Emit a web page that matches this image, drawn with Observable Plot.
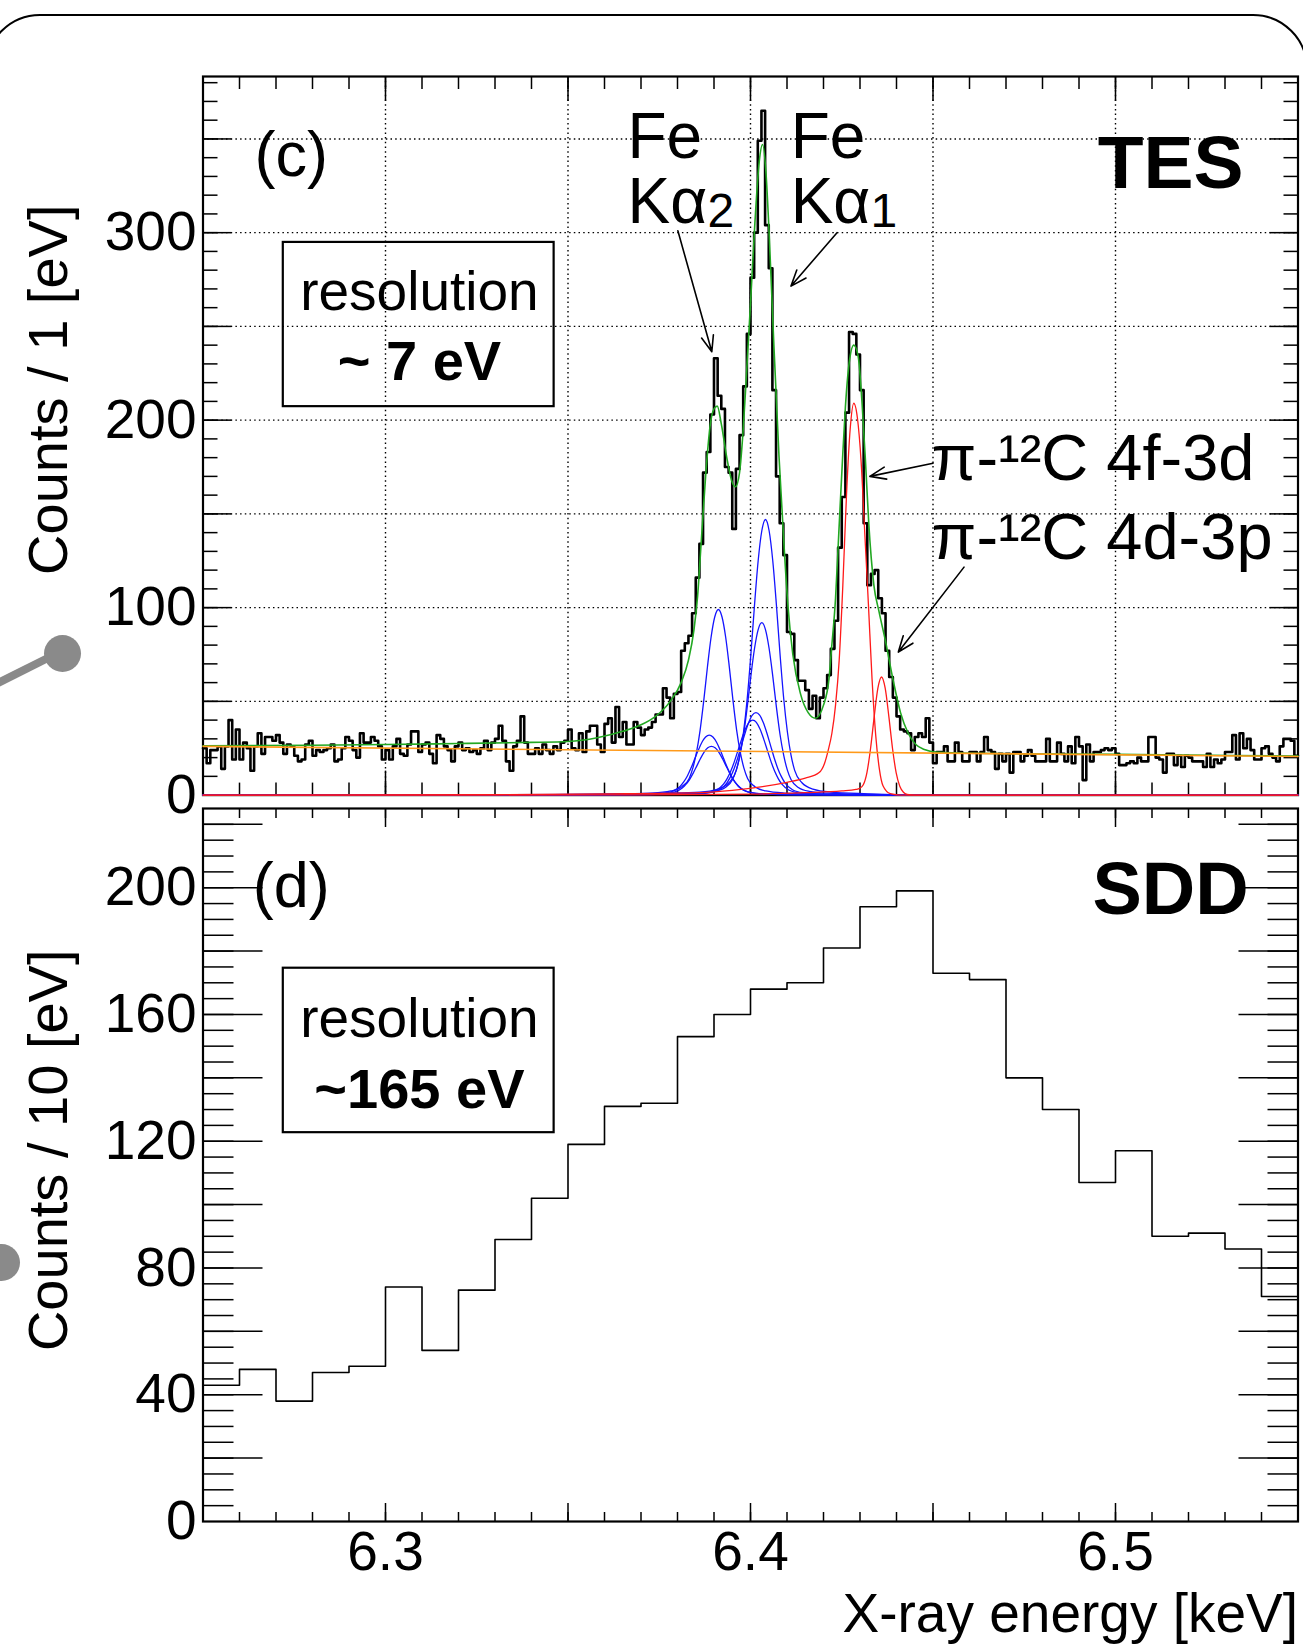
<!DOCTYPE html>
<html><head><meta charset="utf-8">
<script src="https://cdn.jsdelivr.net/npm/d3@7"></script>
<script src="https://cdn.jsdelivr.net/npm/@observablehq/plot@0.6"></script>
<style>
body{margin:0;background:#fff;}
#wrap{position:relative;width:1303px;height:1644px;overflow:hidden;background:#fff;}
#wrap svg{position:absolute;left:0;top:0;}
.outline{position:absolute;left:-15px;top:14px;width:1323px;height:1760px;border:2.5px solid #000;border-radius:55px;box-sizing:border-box;}
.dot{position:absolute;width:37px;height:37px;border-radius:50%;background:#8a8a8a;}
.stick{position:absolute;left:-2px;top:679px;width:72px;height:8px;background:#8a8a8a;transform-origin:0 50%;transform:rotate(-26.6deg);}
</style></head>
<body>
<div id="wrap">
  <div class="outline"></div>
  <div class="stick"></div>
  <div class="dot" style="left:43.5px;top:634.5px"></div>
  <div class="dot" style="left:-17.5px;top:1243.5px"></div>
</div>
<script>
// ---------------- data ----------------
const tesStart = 6.25, tesBinWidth = 0.001;   // keV, 1 eV bins
const tesCounts = [
25,17,24,24,26,14,26,40,19,35, 19,28,25,13,26,33,22,31,31,29, 32,28,22,27,26,21,18,19,27,29, 21,24,23,24,25,27,18,19,25,31, 29,24,20,33,28,28,31,29,26,19,
24,19,26,30,22,21,27,34,34,23, 27,28,22,17,32,30,26,24,18,26, 28,24,25,23,24,22,25,29,24,28, 30,37,29,18,13,26,29,42,28,22, 22,25,22,27,24,22,26,24,28,29,
35,25,24,33,23,34,37,37,27,23, 38,41,28,47,31,39,27,27,39,36, 32,35,36,39,43,43,57,52,41,54, 55,77,81,85,97,116,134,172,183,203, 233,213,206,175,172,142,174,192,218,246,
276,300,349,365,304,281,216,170,145,128, 87,86,72,61,61,56,46,53,41,52, 57,64,78,93,132,159,204,247,246,235, 216,145,112,118,120,105,97,77,63,52, 42,35,34,33,24,31,33,31,41,28,
17,23,23,26,18,18,28,23,18,18, 23,23,18,23,31,24,23,14,22,18, 22,12,23,23,18,21,24,21,18,18, 18,30,18,18,28,22,18,26,17,31, 26,8,27,18,23,23,24,25,24,25,
22,16,16,17,18,17,20,18,18,31, 31,20,19,12,22,22,16,21,15,21, 20,18,18,18,15,22,15,19,17,19, 23,23,32,19,33,25,30,24,19,19, 25,26,22,20,18,26,30,30,29,21
];
const sddStart = 6.25, sddBinWidth = 0.01;    // keV, 10 eV bins
const sddCounts = [43,48,38,47,49,74,54,73,89,102, 119,131,132,153,160,168,170,181,194,199, 173,171,140,130,107,117,90,91,86,71];

// fit curves: [energy keV, counts]
const fitTotal = [[6.2500,26.3],[6.2800,26.6],[6.3000,27.0],[6.3200,27.5],[6.3400,28.1],[6.3500,28.6],[6.3580,30.6],[6.3650,34.0],[6.3700,37.5],[6.3740,42.0],[6.3780,50.0],[6.3810,60.0],[6.3830,72.0],[6.3845,88.0],[6.3855,106.0],[6.3865,135.0],[6.3877,170.0],[6.3890,198.0],[6.3900,206.0],[6.3909,207.5],[6.3920,198.0],[6.3935,180.0],[6.3948,168.0],[6.3959,164.5],[6.3970,172.0],[6.3980,195.0],[6.3990,228.0],[6.4000,262.0],[6.4012,305.0],[6.4024,338.0],[6.4033,347.0],[6.4042,333.0],[6.4051,300.0],[6.4064,240.0],[6.4078,181.0],[6.4091,136.0],[6.4103,100.0],[6.4116,75.0],[6.4137,54.0],[6.4158,44.0],[6.4178,41.0],[6.4200,48.0],[6.4215,62.0],[6.4222,78.0],[6.4233,105.0],[6.4242,140.0],[6.4251,175.0],[6.4260,207.0],[6.4270,230.0],[6.4283,240.0],[6.4295,234.0],[6.4306,208.0],[6.4315,178.0],[6.4324,145.0],[6.4338,112.0],[6.4352,98.0],[6.4370,82.0],[6.4390,62.0],[6.4411,44.0],[6.4432,33.0],[6.4453,27.0],[6.4474,24.5],[6.4516,22.8],[6.4600,22.3],[6.5000,21.7],[6.5500,20.8]];
const fitBackground = [[6.25,26.0],[6.55,20.6]];
const feKa11 = [[6.25,0],[6.3241,0.15],[6.3591,0.44],[6.3761,1.03],[6.3861,1.6],[6.3911,3.2],[6.3941,6.6],[6.3961,13.2],[6.3971,21.3],[6.3981,33.8],[6.3991,51.5],[6.4001,75],[6.4011,101.4],[6.4021,125],[6.4031,141],[6.4041,147],[6.4051,141],[6.4061,125],[6.4071,101.4],[6.4081,75],[6.4091,51.5],[6.4101,33.8],[6.4111,21.3],[6.4121,13.2],[6.4141,6.6],[6.4171,3.2],[6.4221,1.6],[6.4321,0.7],[6.4491,0],[6.55,0]];
const feKa12 = [[6.25,0],[6.3231,0.09],[6.3581,0.28],[6.3751,0.64],[6.3851,1.0],[6.3901,2.0],[6.3931,4.1],[6.3951,8.3],[6.3961,13.3],[6.3971,21.2],[6.3981,32.2],[6.3991,46.9],[6.4001,63.5],[6.4011,78.2],[6.4021,88.3],[6.4031,92],[6.4041,88.3],[6.4051,78.2],[6.4061,63.5],[6.4071,46.9],[6.4081,32.2],[6.4091,21.2],[6.4101,13.3],[6.4111,8.3],[6.4131,4.1],[6.4161,2.0],[6.4211,1.0],[6.4311,0.46],[6.4481,0],[6.55,0]];
const feKa13 = [[6.25,0],[6.3215,0.04],[6.3565,0.13],[6.3735,0.35],[6.3835,0.53],[6.3885,1.23],[6.3915,2.86],[6.3935,6.4],[6.3945,9.7],[6.3955,14.1],[6.3965,19.8],[6.3975,26.4],[6.3985,33],[6.3995,38.7],[6.4005,42.7],[6.4015,44],[6.4025,42.7],[6.4035,38.7],[6.4045,33],[6.4055,26.4],[6.4065,19.8],[6.4075,14.1],[6.4085,9.7],[6.4095,6.4],[6.4115,2.86],[6.4145,1.23],[6.4195,0.53],[6.4295,0.22],[6.4465,0],[6.55,0]];
const feKa14 = [[6.25,0],[6.3206,0.04],[6.3556,0.12],[6.3726,0.32],[6.3826,0.48],[6.3876,1.12],[6.3906,2.6],[6.3926,5.8],[6.3936,8.8],[6.3946,12.8],[6.3956,18],[6.3966,24],[6.3976,30],[6.3986,35.2],[6.3996,38.8],[6.4006,40],[6.4016,38.8],[6.4026,35.2],[6.4036,30],[6.4046,24],[6.4056,18],[6.4066,12.8],[6.4076,8.8],[6.4086,5.8],[6.4106,2.6],[6.4136,1.12],[6.4186,0.48],[6.4286,0.2],[6.4456,0],[6.55,0]];
const feKa21 = [[6.25,0],[6.3112,0.1],[6.3462,0.3],[6.3632,0.7],[6.3732,1.1],[6.3782,2.2],[6.3812,4.5],[6.3832,8.9],[6.3842,14.4],[6.3852,22.8],[6.3862,34.7],[6.3872,50.5],[6.3882,68.3],[6.3892,84.2],[6.3902,95],[6.3912,99],[6.3922,95],[6.3932,84.2],[6.3942,68.3],[6.3952,50.5],[6.3962,34.7],[6.3972,22.8],[6.3982,14.4],[6.3992,8.9],[6.4012,4.5],[6.4042,2.2],[6.4092,1.1],[6.4192,0.5],[6.4362,0],[6.55,0]];
const feKa22 = [[6.25,0],[6.3087,0.03],[6.3437,0.1],[6.3607,0.26],[6.3707,0.38],[6.3757,0.9],[6.3787,2.1],[6.3807,4.6],[6.3817,7],[6.3827,10.2],[6.3837,14.4],[6.3847,19.2],[6.3857,24],[6.3867,28.2],[6.3877,31],[6.3887,32],[6.3897,31],[6.3907,28.2],[6.3917,24],[6.3927,19.2],[6.3937,14.4],[6.3947,10.2],[6.3957,7],[6.3967,4.6],[6.3987,2.1],[6.4017,0.9],[6.4067,0.38],[6.4167,0.16],[6.4337,0],[6.55,0]];
const feKa23 = [[6.25,0],[6.3093,0.03],[6.3443,0.08],[6.3613,0.21],[6.3713,0.31],[6.3763,0.73],[6.3793,1.7],[6.3813,3.8],[6.3823,5.7],[6.3833,8.3],[6.3843,11.7],[6.3853,15.6],[6.3863,19.5],[6.3873,22.9],[6.3883,25.2],[6.3893,26],[6.3903,25.2],[6.3913,22.9],[6.3923,19.5],[6.3933,15.6],[6.3943,11.7],[6.3953,8.3],[6.3963,5.7],[6.3973,3.8],[6.3993,1.7],[6.4023,0.73],[6.4073,0.31],[6.4173,0.13],[6.4343,0],[6.55,0]];
const pi4f3d = [[6.25,0],[6.3300,0.2],[6.3600,0.6],[6.3863,1.3],[6.3950,2.5],[6.4033,4.5],[6.4100,6.8],[6.4150,9.0],[6.4188,12],[6.4203,17],[6.4213,24],[6.4223,33],[6.4233,48],[6.4243,72],[6.4253,112],[6.4263,160],[6.4273,195],[6.4283,209],[6.4293,201],[6.4303,178],[6.4313,140],[6.4323,102],[6.4333,62],[6.4343,32],[6.4353,14],[6.4363,5],[6.4383,0.8],[6.4413,0],[6.55,0]];
const pi4d3p = [[6.25,0],[6.3600,0.1],[6.4000,0.5],[6.4150,1.3],[6.4250,2.2],[6.4289,3.0],[6.4299,3.6],[6.4309,5.5],[6.4319,12],[6.4329,25],[6.4339,42],[6.4349,57],[6.4359,63],[6.4369,57],[6.4379,42],[6.4389,25],[6.4399,12],[6.4409,4.7],[6.4419,1.5],[6.4429,0.4],[6.4450,0],[6.55,0]];

// tick values
const eMinorTicks = d3.range(1, 30).map(i => +(6.25 + i * 0.01).toFixed(2));
const eMajorTicks = [6.3, 6.35, 6.4, 6.45, 6.5];
const eLabelTicks = [6.3, 6.4, 6.5];
const tesMinorTicks = d3.range(10, 381, 10);
const tesGridTicks = [50, 100, 150, 200, 250, 300, 350];
const tesLabelTicks = [0, 100, 200, 300];
const sddMinorTicks = d3.range(5, 225, 5);
const sddMajorTicks = d3.range(20, 221, 20);
const sddLabelTicks = [0, 40, 80, 120, 160, 200];

// annotations (energy keV, counts)
const tesArrows = [
  {x1: 6.3801, y1: 301, x2: 6.3894, y2: 236.5},
  {x1: 6.4237, y1: 300, x2: 6.4111, y2: 271.5},
  {x1: 6.4500, y1: 177, x2: 6.4327, y2: 170},
  {x1: 6.4585, y1: 121.6, x2: 6.4405, y2: 76.3}
];
const feLabels = [
  {t: "Fe", x: 6.3663, y: 339.9}, {t: "Kα", x: 6.3663, y: 305.2},
  {t: "Fe", x: 6.4110, y: 339.9}, {t: "Kα", x: 6.4110, y: 305.2}
];
const feSubscripts = [{t: "2", x: 6.3882, y: 303}, {t: "1", x: 6.4329, y: 303}];
const piLabels = [{t: "π-¹²C 4f-3d", x: 6.4496, y: 179.4}, {t: "π-¹²C 4d-3p", x: 6.4496, y: 136.8}];
const tesBox = [{x1: 6.2720, x2: 6.3462, y1: 207.2, y2: 294.8}];
const tesBoxText = [{t: "resolution", x: 6.3093, y: 268.2, w: "normal"}, {t: "~ 7 eV", x: 6.3093, y: 230.8, w: "bold"}];
const sddBox = [{x1: 6.2720, x2: 6.3462, y1: 122.7, y2: 174.6}];
const sddBoxText = [{t: "resolution", x: 6.3093, y: 158.4, w: "normal"}, {t: "~165 eV", x: 6.3093, y: 136, w: "bold"}];

// ---------------- drawing ----------------
const FONT = '"Liberation Sans", Arial, Helvetica, sans-serif';
const W = 1303, H = 1644;
const GREEN = "#22a822", BLUE = "#1414ff", RED = "#ff1a1a", ORANGE = "#ff9a1a";

function steps(start, w, counts) {
  const pts = counts.map((c, i) => ({e: start + i * w, c}));
  pts.push({e: start + counts.length * w, c: counts[counts.length - 1]});
  return pts;
}
const px = d => d[0], py = d => d[1];
const blank = () => "";
const dotted = {stroke: "#000", strokeOpacity: 1, strokeWidth: 1.4, strokeDasharray: "1.5,3.2"};
const tk = {tickFormat: blank, label: null, strokeWidth: 1.5};
const comp = (data, color) => Plot.line(data, {x: px, y: py, curve: "monotone-x", stroke: color, strokeWidth: 1.3});

const topPlot = Plot.plot({
  width: W, height: H,
  marginLeft: 202.5, marginRight: 5.5, marginTop: 76, marginBottom: H - 794.6,
  x: {domain: [6.25, 6.55], label: null},
  y: {domain: [0, 383.3], label: null},
  style: {background: "transparent", fontFamily: FONT, fontSize: "55px", color: "#000", overflow: "visible"},
  marks: [
    Plot.gridX(eMajorTicks, dotted),
    Plot.gridY(tesGridTicks, dotted),
    Plot.frame({stroke: "#000", strokeWidth: 2.2}),
    Plot.axisX(eMinorTicks, {anchor: "bottom", tickSize: -12, ...tk}),
    Plot.axisX(eMajorTicks, {anchor: "bottom", tickSize: -24, ...tk}),
    Plot.axisX(eMinorTicks, {anchor: "top", tickSize: -12, ...tk}),
    Plot.axisX(eMajorTicks, {anchor: "top", tickSize: -24, ...tk}),
    Plot.axisY(tesMinorTicks, {anchor: "left", tickSize: -15, ...tk}),
    Plot.axisY(tesGridTicks, {anchor: "left", tickSize: -29, ...tk}),
    Plot.axisY(tesMinorTicks, {anchor: "right", tickSize: -15, ...tk}),
    Plot.axisY(tesGridTicks, {anchor: "right", tickSize: -29, ...tk}),
    Plot.axisY(tesLabelTicks, {anchor: "left", tickSize: 0, tickPadding: 6.5, label: null, fontSize: 55}),
    Plot.line(steps(tesStart, tesBinWidth, tesCounts), {x: "e", y: "c", curve: "step-after", stroke: "#000", strokeWidth: 2.6}),
    Plot.line(fitTotal, {x: px, y: py, curve: "monotone-x", stroke: GREEN, strokeWidth: 1.6}),
    comp(feKa23, BLUE), comp(feKa22, BLUE), comp(feKa21, BLUE),
    comp(feKa14, BLUE), comp(feKa13, BLUE), comp(feKa12, BLUE), comp(feKa11, BLUE),
    comp(pi4d3p, RED), comp(pi4f3d, RED),
    Plot.line(fitBackground, {x: px, y: py, stroke: ORANGE, strokeWidth: 1.6}),
    Plot.rect(tesBox, {x1: "x1", x2: "x2", y1: "y1", y2: "y2", fill: "none", stroke: "#000", strokeWidth: 2.2}),
    Plot.text(tesBoxText.filter(d => d.w === "normal"), {x: "x", y: "y", text: "t", fontSize: 55, textAnchor: "middle", lineAnchor: "middle"}),
    Plot.text(tesBoxText.filter(d => d.w === "bold"), {x: "x", y: "y", text: "t", fontSize: 56, fontWeight: "bold", textAnchor: "middle", lineAnchor: "middle"}),
    Plot.text(["(c)"], {x: [6.2742], y: [340.9], fontSize: 63, lineAnchor: "middle"}),
    Plot.text(["TES"], {x: [6.5151], y: [336.7], fontSize: 75, fontWeight: "bold", lineAnchor: "middle"}),
    Plot.text(feLabels, {x: "x", y: "y", text: "t", fontSize: 64, textAnchor: "start", lineAnchor: "bottom"}),
    Plot.text(feSubscripts, {x: "x", y: "y", text: "t", fontSize: 48, textAnchor: "start", lineAnchor: "bottom"}),
    Plot.text(piLabels, {x: "x", y: "y", text: "t", fontSize: 65, textAnchor: "start", lineAnchor: "middle"}),
    Plot.arrow(tesArrows, {x1: "x1", y1: "y1", x2: "x2", y2: "y2", stroke: "#000", strokeWidth: 1.6, headLength: 16, headAngle: 42}),
    Plot.text(["Counts / 1 [eV]"], {frameAnchor: "top-left", dx: -153.5, dy: 128, rotate: -90, textAnchor: "end", lineAnchor: "middle", fontSize: 56})
  ]
});

const botPlot = Plot.plot({
  width: W, height: H,
  marginLeft: 202.5, marginRight: 5.5, marginTop: 808, marginBottom: H - 1521,
  x: {domain: [6.25, 6.55], label: null},
  y: {domain: [0, 225], label: null},
  style: {background: "transparent", fontFamily: FONT, fontSize: "55px", color: "#000", overflow: "visible"},
  marks: [
    Plot.frame({stroke: "#000", strokeWidth: 2.2}),
    Plot.axisX(eMinorTicks, {anchor: "bottom", tickSize: -9, ...tk}),
    Plot.axisX(eMajorTicks, {anchor: "bottom", tickSize: -18, ...tk}),
    Plot.axisX(eMinorTicks, {anchor: "top", tickSize: -9, ...tk}),
    Plot.axisX(eMajorTicks, {anchor: "top", tickSize: -18, ...tk}),
    Plot.axisY(sddMinorTicks, {anchor: "left", tickSize: -31, ...tk}),
    Plot.axisY(sddMajorTicks, {anchor: "left", tickSize: -60, ...tk}),
    Plot.axisY(sddMinorTicks, {anchor: "right", tickSize: -31, ...tk}),
    Plot.axisY(sddMajorTicks, {anchor: "right", tickSize: -60, ...tk}),
    Plot.axisY(sddLabelTicks, {anchor: "left", tickSize: 0, tickPadding: 6.5, label: null, fontSize: 55}),
    Plot.axisX(eLabelTicks, {anchor: "bottom", tickSize: 0, tickPadding: 9, label: null, fontSize: 55, tickFormat: d => d.toFixed(1)}),
    Plot.line(steps(sddStart, sddBinWidth, sddCounts), {x: "e", y: "c", curve: "step-after", stroke: "#000", strokeWidth: 1.6}),
    Plot.rect(sddBox, {x1: "x1", x2: "x2", y1: "y1", y2: "y2", fill: "none", stroke: "#000", strokeWidth: 2.2}),
    Plot.text(sddBoxText.filter(d => d.w === "normal"), {x: "x", y: "y", text: "t", fontSize: 55, textAnchor: "middle", lineAnchor: "middle"}),
    Plot.text(sddBoxText.filter(d => d.w === "bold"), {x: "x", y: "y", text: "t", fontSize: 56, fontWeight: "bold", textAnchor: "middle", lineAnchor: "middle"}),
    Plot.text(["(d)"], {x: [6.2742], y: [200.4], fontSize: 63, lineAnchor: "middle"}),
    Plot.text(["SDD"], {x: [6.5151], y: [199.1], fontSize: 74, fontWeight: "bold", lineAnchor: "middle"}),
    Plot.text(["Counts / 10 [eV]"], {frameAnchor: "top-left", dx: -153.5, dy: 141, rotate: -90, textAnchor: "end", lineAnchor: "middle", fontSize: 56}),
    Plot.text(["X-ray energy [keV]"], {frameAnchor: "bottom-right", dx: 0, dy: 110, textAnchor: "end", lineAnchor: "bottom", fontSize: 55})
  ]
});

const wrap = document.getElementById("wrap");
wrap.appendChild(topPlot);
wrap.appendChild(botPlot);
</script>
</body></html>
